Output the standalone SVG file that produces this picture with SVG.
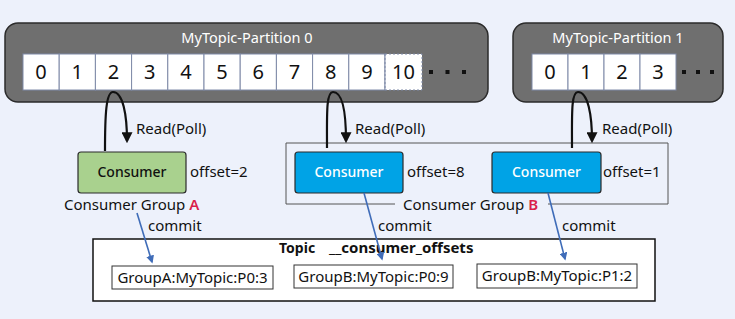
<svg xmlns="http://www.w3.org/2000/svg" width="735" height="319" viewBox="0 0 735 319">
<defs>
<style>
text{font-family:"Noto Sans","Open Sans","Liberation Sans",sans-serif;}
.part{fill:#6f6f6f;stroke:#2b2b2b;stroke-width:1.5;}
.ptitle{fill:#ffffff;font-size:14.5px;text-anchor:middle;}
.cell{fill:#ffffff;stroke:#7f8aa8;stroke-width:1;}
.digit{font-size:20px;fill:#111;text-anchor:middle;}
.dot{fill:#111;}
.lbl{font-size:15px;fill:#111;}
.cons{stroke:#2b2b2b;stroke-width:1.2;}
.green{fill:#a9d18e;}
.blue{fill:#00a3e6;}
.ctext{font-size:14px;text-anchor:middle;font-weight:500;}
.loop{fill:none;stroke:#111;stroke-width:2.2;}
.commit{fill:none;stroke:#3f6cb8;stroke-width:1.6;}
.off{fill:#fff;stroke:#333;stroke-width:1;}
.red{fill:#d91e4b;font-weight:600;}
</style>
<marker id="ah" viewBox="0 0 10 10" refX="8" refY="5" markerWidth="5" markerHeight="5" orient="auto-start-reverse" markerUnits="strokeWidth">
<path d="M0,0 L10,5 L0,10 z" fill="#111"/>
</marker>
<marker id="bh" viewBox="0 0 10 10" refX="8" refY="5" markerWidth="5" markerHeight="5" orient="auto" markerUnits="strokeWidth">
<path d="M0,0 L10,5 L0,10 z" fill="#3f6cb8"/>
</marker>
</defs>
<rect width="735" height="319" fill="#edf1fb"/>

<g id="partition0">
<rect class="part" x="5" y="23" width="483" height="79" rx="13"/>
<text class="ptitle" x="247" y="43">MyTopic-Partition 0</text>
<g>
<rect class="cell" x="23" y="54" width="36.2" height="36"/>
<rect class="cell" x="59.2" y="54" width="36.2" height="36"/>
<rect class="cell" x="95.4" y="54" width="36.2" height="36"/>
<rect class="cell" x="131.6" y="54" width="36.2" height="36"/>
<rect class="cell" x="167.8" y="54" width="36.2" height="36"/>
<rect class="cell" x="204" y="54" width="36.2" height="36"/>
<rect class="cell" x="240.2" y="54" width="36.2" height="36"/>
<rect class="cell" x="276.4" y="54" width="36.2" height="36"/>
<rect class="cell" x="312.6" y="54" width="36.2" height="36"/>
<rect class="cell" x="348.8" y="54" width="36.2" height="36"/>
<rect x="385" y="54" width="37" height="36" fill="#fff" stroke="#7f8aa8" stroke-width="1" stroke-dasharray="2,2"/>
<line x1="385" y1="54" x2="385" y2="90" stroke="#7f8aa8" stroke-width="1"/>
</g>
<g class="digit">
<text x="41" y="79">0</text>
<text x="77.3" y="79">1</text>
<text x="113.5" y="79">2</text>
<text x="149.7" y="79">3</text>
<text x="185.9" y="79">4</text>
<text x="222.1" y="79">5</text>
<text x="258.3" y="79">6</text>
<text x="294.5" y="79">7</text>
<text x="330.7" y="79">8</text>
<text x="366.9" y="79">9</text>
<text x="403.5" y="79">10</text>
</g>
<rect class="dot" x="429" y="70" width="4" height="4"/>
<rect class="dot" x="445.5" y="70" width="4" height="4"/>
<rect class="dot" x="462" y="70" width="4" height="4"/>
</g>

<g id="partition1">
<rect class="part" x="513" y="23" width="210" height="79" rx="13"/>
<text class="ptitle" x="618" y="43">MyTopic-Partition 1</text>
<rect class="cell" x="532" y="54" width="36" height="36"/>
<rect class="cell" x="568" y="54" width="36" height="36"/>
<rect class="cell" x="604" y="54" width="36" height="36"/>
<rect class="cell" x="640" y="54" width="36" height="36"/>
<g class="digit">
<text x="550" y="79">0</text>
<text x="586" y="79">1</text>
<text x="622" y="79">2</text>
<text x="658" y="79">3</text>
</g>
<rect class="dot" x="682" y="70" width="4" height="4"/>
<rect class="dot" x="696" y="70" width="4" height="4"/>
<rect class="dot" x="710" y="70" width="4" height="4"/>
</g>

<g id="groupB">
<path d="M395,204 L286,204 L286,143 L668,143 L668,204 L548,204" fill="none" stroke="#555" stroke-width="1"/>
<text class="lbl" x="403" y="210">Consumer Group <tspan class="red">B</tspan></text>
</g>

<g id="consumerA">
<rect class="cons green" x="78" y="152" width="108" height="41" rx="3"/>
<text class="ctext" x="132" y="177" fill="#111">Consumer</text>
<text class="lbl" x="190" y="177">offset=2</text>
<text class="lbl" x="64" y="210">Consumer Group <tspan class="red">A</tspan></text>
</g>

<g id="consumerB1">
<rect class="cons blue" x="295" y="152" width="108" height="41" rx="3"/>
<text class="ctext" x="349" y="177" fill="#fff">Consumer</text>
<text class="lbl" x="407" y="177">offset=8</text>
</g>

<g id="consumerB2">
<rect class="cons blue" x="492" y="152" width="109" height="41" rx="3"/>
<text class="ctext" x="546.5" y="177" fill="#fff">Consumer</text>
<text class="lbl" x="603" y="177">offset=1</text>
</g>

<g id="offsetsTopic">
<rect x="93" y="239" width="562" height="62" fill="#fff" stroke="#111" stroke-width="1.5"/>
<text x="279" y="253" font-size="14" font-weight="bold" fill="#111">Topic</text>
<text x="329" y="253" font-size="15" font-weight="bold" fill="#111">__consumer_offsets</text>
<rect class="off" x="112" y="266" width="161" height="23"/>
<text class="lbl" x="192.5" y="283" text-anchor="middle">GroupA:MyTopic:P0:3</text>
<rect class="off" x="294" y="265" width="159" height="23"/>
<text class="lbl" x="373.5" y="282" text-anchor="middle">GroupB:MyTopic:P0:9</text>
<rect class="off" x="477" y="264" width="160" height="24"/>
<text class="lbl" x="557" y="281" text-anchor="middle">GroupB:MyTopic:P1:2</text>
</g>

<g id="connectors">
<path class="loop" d="M105,151 C105,115 106,92 113,92 C123,92 127,115 127,141" marker-end="url(#ah)"/>
<path class="loop" d="M327,148 C327,115 326,92 333,92 C343,92 346,115 346,141" marker-end="url(#ah)"/>
<path class="loop" d="M572,148 C572,115 571,92 578,92 C588,92 592,115 592,141" marker-end="url(#ah)"/>
<text class="lbl" x="136" y="134">Read(Poll)</text>
<text class="lbl" x="355" y="134">Read(Poll)</text>
<text class="lbl" x="602" y="134">Read(Poll)</text>
<path class="commit" d="M137,213 L152,262" marker-end="url(#bh)"/>
<path class="commit" d="M364,193 L382,259" marker-end="url(#bh)"/>
<path class="commit" d="M548,193 L565,259" marker-end="url(#bh)"/>
<text class="lbl" x="148" y="231">commit</text>
<text class="lbl" x="378" y="231">commit</text>
<text class="lbl" x="562" y="231">commit</text>
</g>
</svg>
